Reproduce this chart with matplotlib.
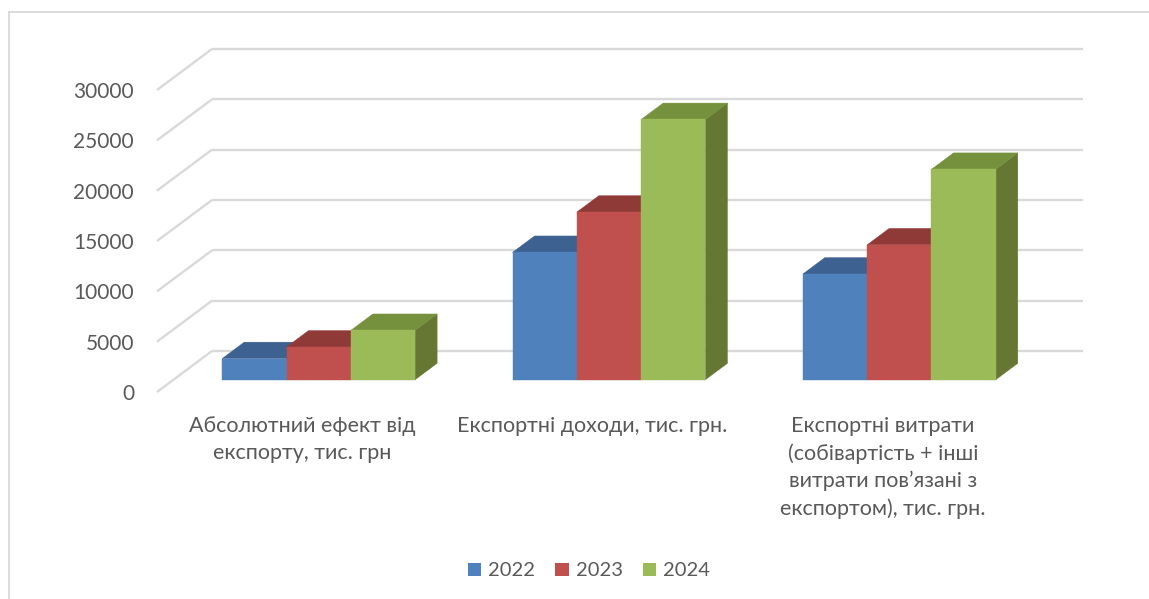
import matplotlib
matplotlib.use("Agg")
import matplotlib.pyplot as plt
from matplotlib.patches import Polygon, Patch
from matplotlib.lines import Line2D

# ---- data -------------------------------------------------------------
categories = [
    "Абсолютний ефект від\nекспорту, тис. грн",
    "Експортні доходи, тис. грн.",
    "Експортні витрати\n(собівартість + інші\nвитрати пов’язані з\nекспортом), тис. грн.",
]
years = ["2022", "2023", "2024"]
values_2022 = [2100, 12650, 10500]
values_2023 = [3250, 16650, 13400]
values_2024 = [4900, 25850, 20900]
y_ticks = [0, 5000, 10000, 15000, 20000, 25000, 30000]

series = [values_2022, values_2023, values_2024]

# ---- styling ----------------------------------------------------------
front_colors = ["#4F81BD", "#C0504D", "#9BBB59"]
top_colors = ["#3D6190", "#903A38", "#76913D"]
side_colors = ["#34527A", "#7A312F", "#657733"]
grid_color = "#D9D9D9"
text_color = "#595959"
FONT = "Lato"

W, H = 1149, 599
fig = plt.figure(figsize=(W / 100, H / 100), dpi=100)
fig.patch.set_facecolor("white")

# front plane of the 3-D box (pixels): x 157..1028, value 0 at y=392, 30000 at y=90
left, right, y0, y30 = 157, 1028, 392, 90
ax = fig.add_axes([left / W, (H - y0) / H, (right - left) / W, (y0 - y30) / H])
ax.set_xlim(0, 3)
ax.set_ylim(0, 30000)
ax.set_facecolor("none")
for s in ax.spines.values():
    s.set_visible(False)

# oblique depth: full depth shifts the point right and up
DEPTH_X = 55 / ((right - left) / 3)       # in category units
DEPTH_V = 41 / ((y0 - y30) / 30000)       # in value units


def proj(x, v, z):
    return (x + z * DEPTH_X, v + z * DEPTH_V)


# gridlines: back wall and left wall
for v in y_ticks:
    bx0, bv = proj(0, v, 1)
    bx1, _ = proj(3, v, 1)
    ax.add_line(Line2D([bx0, bx1], [bv, bv], color=grid_color, lw=1.7,
                       clip_on=False, zorder=1, solid_capstyle="butt"))
    fx, fv = proj(0, v, 0)
    ax.add_line(Line2D([fx, bx0], [fv, bv], color=grid_color, lw=1.7,
                       clip_on=False, zorder=1, solid_capstyle="butt"))

# 3-D columns
bar_w = 0.2215
z_front, z_back = 0.3, 0.7
z = 2
for i in range(len(categories)):
    start = i + 0.5 - 1.5 * bar_w
    for j, vals in enumerate(series):
        v = vals[i]
        x0 = start + j * bar_w
        x1 = x0 + bar_w
        side = [proj(x1, 0, z_front), proj(x1, 0, z_back),
                proj(x1, v, z_back), proj(x1, v, z_front)]
        top = [proj(x0, v, z_front), proj(x1, v, z_front),
               proj(x1, v, z_back), proj(x0, v, z_back)]
        front = [proj(x0, 0, z_front), proj(x1, 0, z_front),
                 proj(x1, v, z_front), proj(x0, v, z_front)]
        for pts, col in ((side, side_colors[j]), (top, top_colors[j]),
                         (front, front_colors[j])):
            ax.add_patch(Polygon(pts, closed=True, facecolor=col,
                                 edgecolor=col, lw=0.3, clip_on=False,
                                 zorder=z))
            z += 0.01

# axis labels
ax.set_yticks(y_ticks)
ax.set_yticklabels([str(t) for t in y_ticks])
ax.set_xticks([0.5, 1.5, 2.5])
ax.set_xticklabels(categories, linespacing=1.42)
ax.tick_params(axis="y", length=0, pad=16.5, labelsize=15,
               labelcolor=text_color)
ax.tick_params(axis="x", length=0, pad=17.5, labelsize=15.5,
               labelcolor=text_color)
for lab in ax.get_xticklabels() + ax.get_yticklabels():
    lab.set_fontfamily(FONT)
for lab in ax.get_xticklabels():
    lab.set_multialignment("center")

# legend
handles = [Patch(facecolor=c, edgecolor="none", label=y)
           for c, y in zip(front_colors, years)]
fig.legend(handles=handles, loc="center", ncol=3, frameon=False,
           bbox_to_anchor=(589 / W, 1 - 571 / H),
           prop={"family": FONT, "size": 14.5}, labelcolor=text_color,
           handlelength=0.65, handleheight=0.65, handletextpad=0.35,
           columnspacing=1.0)

# chart-area border (left and top edges)
fig.add_artist(Line2D([8.5 / W, 8.5 / W], [0, 1 - 12 / H],
                      transform=fig.transFigure, color=grid_color, lw=1.3))
fig.add_artist(Line2D([8.5 / W, 1], [1 - 12 / H, 1 - 12 / H],
                      transform=fig.transFigure, color=grid_color, lw=1.3))

fig.savefig("out.png", dpi=100, facecolor="white")
